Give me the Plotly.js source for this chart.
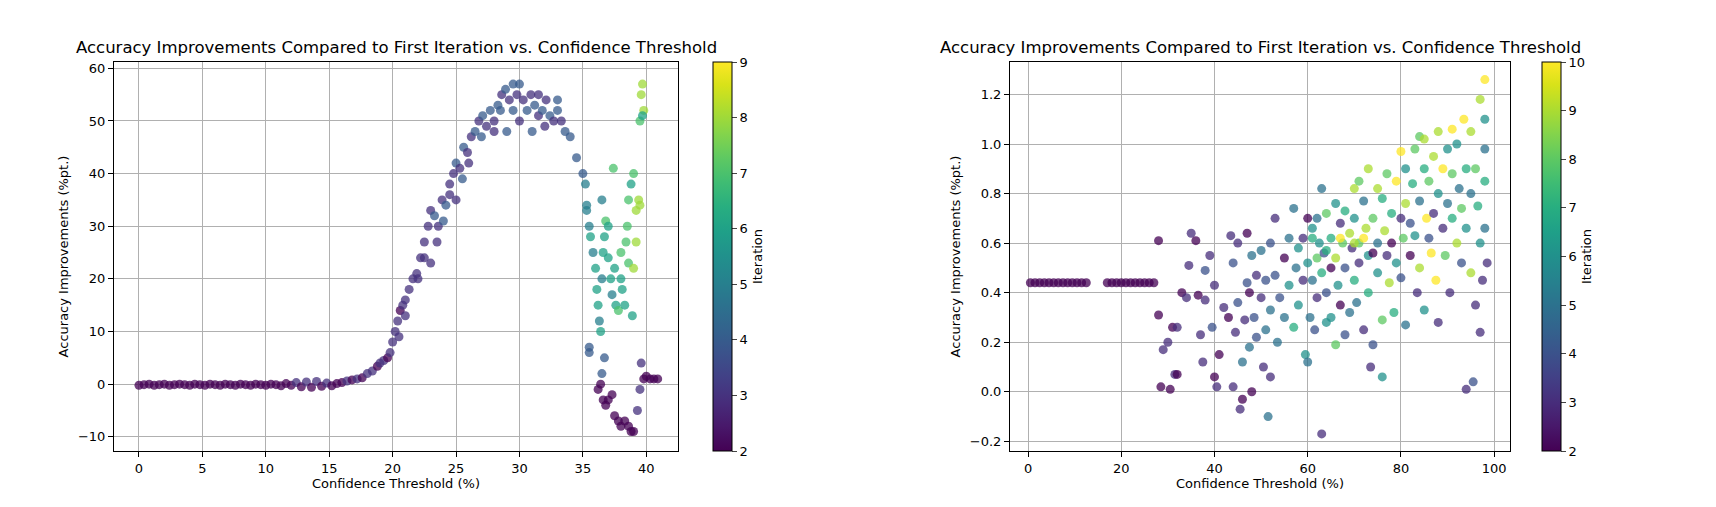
<!DOCTYPE html>
<html><head><meta charset="utf-8">
<script src="https://cdn.plot.ly/plotly-3.0.1.min.js"></script>
<style>body{margin:0;background:#fff}#c{width:1716px;height:507px}</style></head>
<body><div id="c"></div>
<script>
// Left chart data
const L_x = [0,0.4,0.8,1.2,1.6,2,2.4,2.8,3.2,3.6,4,4.4,4.8,5.2,5.6,6,6.4,6.8,7.2,7.6,8,8.4,8.8,9.2,9.6,10,10.4,10.8,11.2,11.6,12,12.4,12.8,13.2,13.6,14,14.4,14.8,15.2,15.6,
16,16.4,16.8,17.2,17.6,18,18.4,18.8,19,19.3,19.6,19.8,20,20.2,20.4,20.6,20.8,21,21.3,21.6,21.9,22.2,22.5,22.8,23,23.3,23.6,23.9,24.2,24.5,24.8,25,25.3,25.6,25.9,26.2,26.5,26.8,27.1,27.4,27.7,28,28.3,28.6,28.9,29.2,29.5,29.8,30,30.3,30.6,30.9,31.2,31.5,31.8,32.1,32.4,32.7,33,33.3,33.6,34,34.5,
23,23.5,24,24.5,25,25.5,26,27,28,29,30,31,32,28.5,29.5,31.5,33,22,22.5,21,20.5,
35,35.2,35.3,35.5,35.6,35.8,36,36.1,36.2,36.3,36.4,36.5,36.6,36.7,36.8,37,37,37.2,37.3,37.5,37.6,37.8,38,38,38.1,38.3,38.4,38.5,38.6,38.8,39,39.2,39.4,39.5,39.5,39.6,39.7,39.8,39.7,35.5,35.5,36.2,36.4,36.6,36.8,37,37.3,37.5,37.8,38,38.3,38.6,38.8,39,39.3,39.5,39.6,39.8,40,40.3,40.6,40.9,36.5,35.3,37.4,38.6,39,39.2,38.9,36.7,36.5];
const L_y = [-0.2,-0.1,0,-0.2,-0.1,0,-0.2,-0.1,0,-0.1,-0.2,0,-0.1,-0.2,0,-0.1,-0.2,0,-0.1,-0.2,0,-0.1,-0.2,0,-0.1,-0.2,0,-0.1,-0.3,0.1,-0.2,0.3,-0.5,0.4,-0.6,0.5,-0.4,0.2,-0.3,0.1,
0.3,0.6,0.8,1,1.2,2,2.5,3.4,4,4.5,5,6,8,10,12,14,15,16,18,20,21,24,27,30,33,32,30,35,34,38,40,42,41,45,44,47,48,50,51,49,52,50,53,55,56,54,52,55,57,54,52,55,53,51,52,54,51,50,52,50,48,47,43,
23,27,31,36,35,39,42,47,48,48,50,48,49,52,57,55,54,20,24,13,9,
40,38,33,30,28,25,22,18,15,12,10,20,25,28,31,30,24,20,17,22,15,14,20,25,18,15,27,30,35,38,40,33,35,34,50,55,57,52,51,7,6,-1,0,-3,-4,-3,-2,-6,-7,-8,-7,-8,-9,-9,-5,-1,4,1,1.5,1,1,1,35,34,41,23,22,27,13,5,2];
const L_it = [2,2,2,2,2,2,2,2,2,2,2,2,2,2,2,2,2,2,2,2,2,2,2,2,2,2,2,2,2,2,2,3,2,3,2,3,2,3,2,2,
2,3,2,3,2,3,3,2,3,3,2,3,3,3,3,2,3,3,3,3,3,3,3,3,3,4,3,3,4,3,3,4,3,4,3,3,4,3,4,3,4,3,4,3,4,3,4,3,4,3,4,3,4,3,4,3,4,3,4,3,4,4,4,
3,3,4,3,3,4,3,4,3,4,3,4,3,4,4,3,4,3,3,3,3,
4,5,5,5,6,5,6,6,6,5,6,5,6,6,7,6,6,6,5,6,6,7,6,7,6,6,7,7,7,6,7,8,8,8,7,8,8,8,6,4,4,2,2,2,2,2,2,2,2,2,2,2,2,2,3,3,3,2,2,2,2,2,5,5,7,7,8,8,6,4,4];

// Right chart data
const R_x = [0.5,1.5,2.5,3.5,4.5,5.5,6.5,7.5,8.5,9.5,10.5,11.5,12.5,17,18,19,20,21,22,23,24,25,26,27,
28,28,28.5,29,30,30.5,31,31.5,32,32,33,34,34.5,35,36,36.5,37,37.5,38,38,39,39.5,40,40,40.5,41,42,43,43.5,44,44,44.5,45,45,45.5,46,46,46.5,47,47,47.5,47.5,48,48,48.5,49,49,50,50,50.5,51,51,51.5,52,52,52,53,53,53.5,54,55,55,56,56,57,57,57.5,58,58,59,59,59.5,60,60,60,60.5,61,61,61,61.5,62,62,62,62.5,63,63,63,63.5,64,64,64,65,65,65,66,66,66,66.5,67,67,67.5,68,68,68,69,69,69.5,70,70,70,70.5,71,71,71,72,72,72.5,73,73,73,73.5,74,74,74,75,75,75,76,76,76,76.5,77,77,77.5,78,78,78.5,79,79,80,80,80,80.5,81,81,81,82,82,82.5,83,83,83.5,84,84,84,85,85,85.5,86,86,86.5,87,87,87.5,88,88,88,89,89,89.5,90,90,90.5,91,91,92,92,92.5,93,93,93.5,94,94,94,95,95,95,95.5,96,96,96.5,97,97,97,97.5,98,98,98,98,98.5,98,85,91,70,72,64,67];
const R_y = [0.44,0.44,0.44,0.44,0.44,0.44,0.44,0.44,0.44,0.44,0.44,0.44,0.44,0.44,0.44,0.44,0.44,0.44,0.44,0.44,0.44,0.44,0.44,0.44,
0.61,0.31,0.02,0.17,0.2,0.01,0.26,0.07,0.26,0.07,0.4,0.38,0.51,0.64,0.61,0.39,0.23,0.12,0.49,0.37,0.55,0.26,0.43,0.06,0.02,0.15,0.34,0.3,0.63,0.52,0.02,0.24,0.36,0.6,-0.07,-0.03,0.12,0.29,0.44,0.64,0.4,0.18,0.0,0.55,0.3,0.47,0.22,0.38,0.57,0.1,0.45,0.25,-0.1,0.6,0.33,0.06,0.7,0.47,0.2,0.38,0.54,0.3,0.62,0.43,0.74,0.26,0.5,0.35,0.58,0.62,0.45,0.15,0.12,0.7,0.52,0.3,0.66,0.45,0.62,0.25,0.54,0.7,0.38,0.6,-0.17,0.82,0.48,0.56,0.4,0.28,0.72,0.5,0.62,0.3,0.76,0.19,0.54,0.43,0.68,0.35,0.6,0.5,0.73,0.23,0.64,0.32,0.58,0.82,0.45,0.7,0.36,0.6,0.85,0.52,0.77,0.25,0.66,0.55,0.9,0.4,0.1,0.7,0.19,0.56,0.82,0.6,0.48,0.06,0.78,0.29,0.65,0.88,0.55,0.44,0.72,0.6,0.32,0.85,0.52,0.97,0.7,0.46,0.62,0.9,0.27,0.76,0.55,0.68,0.84,0.98,0.63,0.4,1.03,0.77,0.5,0.9,0.33,0.7,0.62,0.85,0.56,0.95,0.72,0.45,0.28,0.8,1.05,0.66,0.9,0.55,0.76,0.98,0.4,0.7,0.88,1.0,0.6,0.82,0.74,0.52,1.1,0.01,0.9,0.66,0.48,1.05,0.8,0.04,0.35,0.9,0.75,0.24,1.18,0.6,0.45,1.26,1.1,0.85,0.66,0.52,0.98,1.02,1.06,0.6,0.62,0.57,0.62];
const R_it = [2,2,2,2,2,2,2,2,2,2,2,2,2,2,2,2,2,2,2,2,2,2,2,2,
2,2,2,3,3,2,2,3,3,2,2,3,3,3,2,2,3,3,4,3,3,4,3,2,3,2,3,2,3,4,3,3,4,3,3,2,5,3,4,2,2,5,2,5,4,3,4,3,5,3,4,5,5,4,5,3,3,4,5,4,2,5,5,6,5,7,5,6,6,3,3,6,5,2,6,5,6,5,7,4,8,5,3,6,3,5,7,4,4,6,8,2,7,6,6,8,9,6,3,2,8,4,7,4,9,5,3,9,7,6,5,8,8,3,5,3,9,6,9,7,3,8,4,2,9,5,6,6,7,8,9,8,3,9,7,2,7,10,6,10,3,4,8,6,5,9,2,4,7,8,6,3,8,5,9,7,6,10,4,8,10,9,3,10,3,6,9,3,10,8,5,6,3,7,8,6,9,5,8,4,10,3,7,6,9,9,5,4,3,8,7,3,9,6,3,10,6,7,5,3,5,9,10,9,10,7,10];

const W = 1716;
const axisStyle = {showgrid:true,gridcolor:'#b0b0b0',gridwidth:1,zeroline:false,showline:true,linecolor:'#000',linewidth:1,mirror:true,ticks:'outside',ticklen:5,tickcolor:'#000',tickfont:{size:13,color:'#000'}};
const mk = (x,y,c,xa,ya,cmax,cbx)=>({type:'scatter',mode:'markers',x,y,xaxis:xa,yaxis:ya,
  marker:{size:9,color:c,colorscale:'Viridis',cmin:2,cmax:cmax,opacity:0.75,line:{width:0},
    showscale:true,colorbar:{x:cbx,xanchor:'left',xpad:0,ypad:0,y:0.5,yanchor:'middle',len:1,lenmode:'fraction',thickness:19,outlinewidth:1,outlinecolor:'#000',dtick:1,ticks:'outside',ticklen:5,tickfont:{size:13},
      title:{text:'Iteration',side:'right',font:{size:13}}}}});
const layout = {width:1716,height:507,margin:{l:0,r:0,t:62,b:56},paper_bgcolor:'#fff',plot_bgcolor:'#fff',showlegend:false,
  font:{family:'DejaVu Sans',color:'#000'},
  xaxis:Object.assign({},axisStyle,{domain:[114/W,678/W],range:[-1.97,42.5],dtick:5,title:{text:'Confidence Threshold (%)',font:{size:13},standoff:4},anchor:'y'}),
  yaxis:Object.assign({},axisStyle,{domain:[0,1],range:[-12.7,61.2],dtick:10,title:{text:'Accuracy Improvements (%pt.)',font:{size:13},standoff:6},anchor:'x'}),
  xaxis2:Object.assign({},axisStyle,{domain:[1010/W,1510/W],range:[-3.87,103.4],dtick:20,title:{text:'Confidence Threshold (%)',font:{size:13},standoff:4},anchor:'y2'}),
  yaxis2:Object.assign({},axisStyle,{domain:[0,1],range:[-0.239,1.331],dtick:0.2,tickformat:'.1f',title:{text:'Accuracy Improvements (%pt.)',font:{size:13},standoff:6},anchor:'x2'}),
  annotations:[
    {text:'Accuracy Improvements Compared to First Iteration vs. Confidence Threshold',xref:'paper',yref:'paper',x:396/W,xanchor:'center',y:1,yshift:3,yanchor:'bottom',showarrow:false,font:{size:16.5}},
    {text:'Accuracy Improvements Compared to First Iteration vs. Confidence Threshold',xref:'paper',yref:'paper',x:1260/W,xanchor:'center',y:1,yshift:3,yanchor:'bottom',showarrow:false,font:{size:16.5}}
  ]};
Plotly.newPlot('c',[mk(L_x,L_y,L_it,'x','y',9,713/W),mk(R_x,R_y,R_it,'x2','y2',10,1541.5/W)],layout,{displayModeBar:false});
</script></body></html>
